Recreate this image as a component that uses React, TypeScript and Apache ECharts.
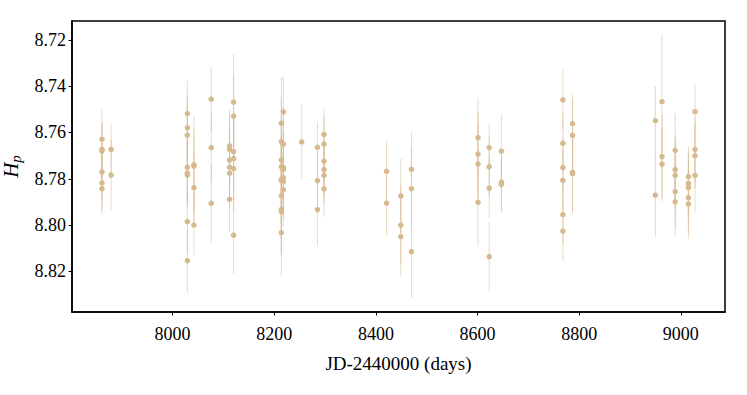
import React, { useEffect, useRef } from "react";
import * as echarts from "echarts";

// Observation epochs (JD - 2440000)
const epochs = [
  7861, 7879, 8029, 8042, 8076, 8112, 8120, 8214, 8218, 8254, 8285, 8298, 8421,
  8449, 8470, 8601, 8623, 8647, 8768, 8787, 8950, 8963, 8989, 9015, 9028,
];

// Hp magnitudes for each epoch
const hpValues: number[][] = [
  [8.7629, 8.7673, 8.768, 8.7771, 8.7818, 8.7843],
  [8.7673, 8.7784],
  [8.7518, 8.758, 8.7611, 8.775, 8.7776, 8.7784, 8.7985, 8.8154],
  [8.774, 8.7745, 8.7838, 8.8],
  [8.7456, 8.7665, 8.7906],
  [8.7658, 8.7673, 8.7719, 8.775, 8.7776, 8.7889],
  [8.7469, 8.7529, 8.7683, 8.7713, 8.7756, 8.8044],
  [8.756, 8.7639, 8.7719, 8.7748, 8.7802, 8.7807, 8.7873, 8.7932, 8.7942, 8.8033],
  [8.7511, 8.765, 8.7752, 8.776, 8.7795, 8.7812, 8.7848],
  [8.7641],
  [8.7664, 8.7808, 8.7933],
  [8.7608, 8.765, 8.7724, 8.776, 8.7785, 8.7844],
  [8.7768, 8.7905],
  [8.7874, 8.8, 8.805],
  [8.7759, 8.7843, 8.8115],
  [8.7622, 8.7693, 8.7736, 8.7902],
  [8.7665, 8.7748, 8.7841, 8.8137],
  [8.7681, 8.7815, 8.7824],
  [8.7459, 8.7647, 8.7752, 8.7807, 8.7955, 8.8026],
  [8.7562, 8.7612, 8.7772, 8.7778],
  [8.7549, 8.7871],
  [8.7467, 8.7704, 8.7737],
  [8.7677, 8.776, 8.7785, 8.7856, 8.79],
  [8.7791, 8.782, 8.7838, 8.7882, 8.7909],
  [8.751, 8.7673, 8.77, 8.7785],
];

// 1-sigma errors for each measurement
const hpErrors: number[][] = [
  [0.013, 0.012, 0.012, 0.012, 0.012, 0.011],
  [0.011, 0.0155],
  [0.014, 0.014, 0.014, 0.014, 0.014, 0.014, 0.014, 0.014],
  [0.021, 0.016, 0.016, 0.013],
  [0.014, 0.015, 0.017],
  [0.0155, 0.015, 0.015, 0.015, 0.015, 0.014],
  [0.021, 0.018, 0.018, 0.018, 0.018, 0.017],
  [0.02, 0.019, 0.019, 0.019, 0.019, 0.019, 0.019, 0.019, 0.019, 0.019],
  [0.015, 0.016, 0.016, 0.016, 0.016, 0.016, 0.016],
  [0.016],
  [0.011, 0.013, 0.016],
  [0.011, 0.012, 0.012, 0.012, 0.012, 0.012],
  [0.013, 0.014],
  [0.016, 0.017, 0.017],
  [0.016, 0.018, 0.02],
  [0.017, 0.018, 0.018, 0.019],
  [0.01, 0.013, 0.013, 0.015],
  [0.016, 0.012, 0.012],
  [0.013, 0.013, 0.013, 0.013, 0.013, 0.013],
  [0.013, 0.015, 0.017, 0.017],
  [0.015, 0.018],
  [0.029, 0.018, 0.016],
  [0.016, 0.015, 0.015, 0.015, 0.015],
  [0.013, 0.014, 0.014, 0.015, 0.015],
  [0.012, 0.014, 0.014, 0.016],
];

const xTicks = [8000, 8200, 8400, 8600, 8800, 9000];
const yTicks = [8.72, 8.74, 8.76, 8.78, 8.8, 8.82];

const FONT = "Liberation Serif";

export default function App() {
  const ref = useRef<HTMLDivElement>(null);
  useEffect(() => {
    if (!ref.current) return;
    const chart = echarts.init(ref.current, null, { renderer: "svg" });
    const points: number[][] = [];
    const bars: number[][] = [];
    epochs.forEach((jd, i) => {
      hpValues[i].forEach((v, j) => {
        const e = hpErrors[i][j];
        points.push([jd, v]);
        bars.push([jd, v - e, v + e]);
      });
    });
    chart.setOption({
      animation: false,
      backgroundColor: "#ffffff",
      textStyle: { fontFamily: FONT, color: "#000" },
      grid: {
        left: 72,
        right: 22,
        top: 21,
        bottom: 83,
        outerBoundsMode: "none",
        containLabel: false,
        show: true,
        borderColor: "#000",
        borderWidth: 1.5,
        backgroundColor: "transparent",
      },
      xAxis: {
        type: "value",
        min: 7802,
        max: 9087,
        name: "JD-2440000 (days)",
        nameLocation: "middle",
        nameGap: 42,
        nameTextStyle: { fontFamily: FONT, fontSize: 19, color: "#000" },
        axisLine: { show: true, lineStyle: { color: "#000", width: 1.5 } },
        axisTick: {
          show: true,
          length: 3.5,
          lineStyle: { color: "#000", width: 1 },
          customValues: xTicks,
        },
        axisLabel: {
          customValues: xTicks,
          formatter: (v: number) => String(Math.round(v)),
          fontFamily: FONT,
          fontSize: 18,
          color: "#000",
          margin: 13,
        },
        splitLine: { show: false },
      },
      yAxis: {
        type: "value",
        inverse: true,
        min: 8.7118,
        max: 8.8376,
        name: "{i|H}{s|p}",
        nameLocation: "middle",
        nameGap: 47,
        nameRotate: 90,
        nameTextStyle: {
          color: "#000",
          fontFamily: FONT,
          rich: {
            i: { fontFamily: FONT, fontStyle: "italic", fontSize: 21, color: "#000" },
            s: {
              fontFamily: FONT,
              fontStyle: "italic",
              fontSize: 15,
              color: "#000",
              padding: [10, 0, 0, 0],
            },
          },
        },
        axisLine: { show: true, lineStyle: { color: "#000", width: 1.5 } },
        axisTick: {
          show: true,
          length: 3.5,
          lineStyle: { color: "#000", width: 1 },
          customValues: yTicks,
        },
        axisLabel: {
          customValues: yTicks,
          formatter: (v: number) => v.toFixed(2),
          fontFamily: FONT,
          fontSize: 18,
          color: "#000",
          margin: 6,
        },
        splitLine: { show: false },
      },
      series: [
        {
          type: "custom",
          data: bars,
          encode: { x: 0, y: [1, 2] },
          silent: true,
          renderItem: (params: any, api: any) => {
            const x = api.value(0);
            const lo = api.coord([x, api.value(1)]);
            const hi = api.coord([x, api.value(2)]);
            return {
              type: "line",
              shape: { x1: lo[0], y1: lo[1], x2: hi[0], y2: hi[1] },
              style: { stroke: "rgba(214,184,140,0.5)", lineWidth: 1 },
            };
          },
          z: 1,
        },
        {
          type: "scatter",
          data: points,
          symbol: "circle",
          symbolSize: 5.5,
          itemStyle: { color: "#d6b98d", opacity: 1 },
          z: 2,
        },
      ],
    });
    return () => chart.dispose();
  }, []);
  return (
    <div
      ref={ref}
      style={{ position: "fixed", left: 0, top: 0, width: 747, height: 395 }}
    />
  );
}
